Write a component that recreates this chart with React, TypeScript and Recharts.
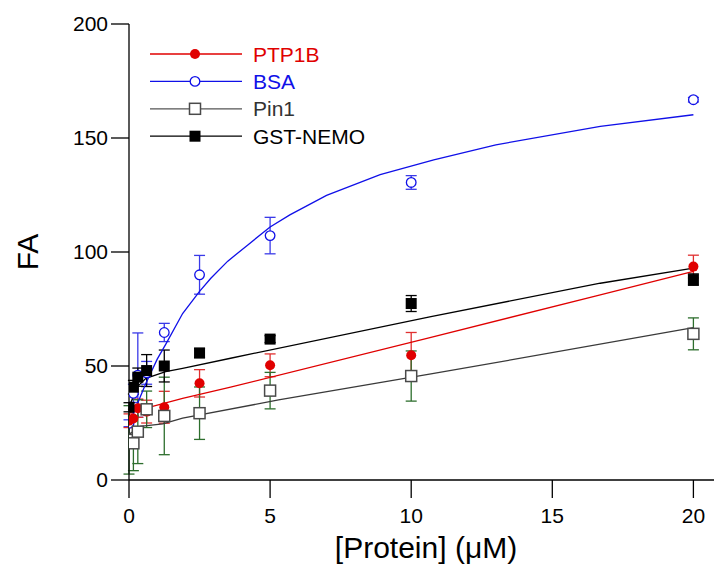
import React from 'react';
import { ComposedChart, Scatter, XAxis, YAxis, ErrorBar } from 'recharts';

const FONT = '"Liberation Sans", Arial, Helvetica, sans-serif';

// Concentrations (µM)
const xValues = [0, 0.156, 0.3125, 0.625, 1.25, 2.5, 5, 10, 20];

// Measured FA values and errors
const ptp1bY = [26, 27, 31.5, 30, 31.9, 42.4, 50.3, 54.7, 93.6];
const ptp1bErr = [3, 4, 4, 5, 7, 6, 5, 10, 5];

const bsaY = [24.9, 38, 46, 47, 64.7, 90.0, 107.2, 130.5, 166.8];
const bsaErr = [1.5, 4, 18.5, 5, 4, 8.5, 8, 3, 1];

const pin1Y = [17.6, 16.1, 21.2, 31.0, 28.1, 29.3, 39.2, 45.6, 64.1];
const pin1Err = [15, 12, 14, 8, 17, 11.5, 8, 11, 7];

const gstY = [31.9, 40.7, 45.1, 48.0, 50.0, 55.7, 61.8, 77.4, 87.9];
const gstErr = [2, 3, 4, 7, 7, 2, 1.5, 3.5, 2.5];

// Fit curves
const bsaFitX = [0, 0.3, 0.6, 1.0, 1.3, 1.9, 2.5, 2.9, 3.5, 4.2, 5, 5.7, 7, 8.9, 10.8, 13, 16.7, 20];
const bsaFitY = [24.5, 33.5, 42.4, 53, 59.5, 73, 82.7, 88.5, 96, 103, 111, 116.3, 124.8, 133.9, 140.4, 147, 155.1, 160.2];

const gstFitX = [0, 0.3, 0.6, 1.3, 1.9, 3.6, 10.7, 16.7, 20];
const gstFitY = [32, 41, 44.6, 47.5, 49, 53.4, 71.7, 86.3, 92.9];

const ptpFitX = [0, 1.9, 3.6, 10.7, 16.7, 20];
const ptpFitY = [29.5, 35.8, 40.7, 62.6, 81.2, 91.5];

const pin1FitX = [0, 0.4, 1.2, 1.9, 5.3, 10.7, 20];
const pin1FitY = [20, 23.5, 24.6, 27.1, 35.1, 46.5, 66.8];

const xTicks = [0, 5, 10, 15, 20];
const yTicks = [0, 50, 100, 150, 200];

const RED = '#e00000';
const BLUE = '#1010e8';
const GREEN = '#2d6e2d';
const GRAY = '#4a4a4a';

const mk = (ys: number[], errs: number[]) => xValues.map((x, i) => ({ x, y: ys[i], err: errs[i] }));
const fit = (xs: number[], ys: number[]) => xs.map((x, i) => ({ x, y: ys[i] }));

const ptpData = mk(ptp1bY, ptp1bErr);
const bsaData = mk(bsaY, bsaErr);
const pin1Data = mk(pin1Y, pin1Err);
const gstData = mk(gstY, gstErr);

const RedDot = (p: any) => <circle cx={p.cx} cy={p.cy} r={5} fill={RED} />;
const BlueCircle = (p: any) => <circle cx={p.cx} cy={p.cy} r={4.8} fill="#fff" stroke={BLUE} strokeWidth={1.3} />;
const WhiteSquare = (p: any) => (
  <rect x={p.cx - 5.5} y={p.cy - 5.5} width={11} height={11} fill="#fff" stroke={GRAY} strokeWidth={1.5} />
);
const BlackSquare = (p: any) => <rect x={p.cx - 5.5} y={p.cy - 5.5} width={11} height={11} fill="#000" />;
const NoShape = () => <g />;

const YTitle = () => (
  <text x={27} y={252} transform="rotate(-90 27 252)" textAnchor="middle" dominantBaseline="central"
    fontSize={30} fontFamily={FONT} fill="#000">FA</text>
);
const XTitle = () => (
  <text x={426} y={558} textAnchor="middle" fontSize={30} fontFamily={FONT} fill="#000">[Protein] (μM)</text>
);

const legendItems = [
  { name: 'PTP1B', line: RED, text: RED, marker: 'dot' },
  { name: 'BSA', line: BLUE, text: BLUE, marker: 'circle' },
  { name: 'Pin1', line: '#555', text: '#333', marker: 'wsq' },
  { name: 'GST-NEMO', line: '#000', text: '#000', marker: 'bsq' },
];

const LegendOverlay = () => (
  <svg width={714} height={567} style={{ position: 'absolute', left: 0, top: 0, pointerEvents: 'none' }}>
    {legendItems.map((it, i) => {
      const y = 54 + i * 27.4;
      return (
        <g key={it.name}>
          <line x1={150} x2={242} y1={y} y2={y} stroke={it.line} strokeWidth={1.3} />
          {it.marker === 'dot' && <circle cx={195} cy={y} r={5} fill={RED} />}
          {it.marker === 'circle' && <circle cx={195} cy={y} r={4.8} fill="#fff" stroke={BLUE} strokeWidth={1.3} />}
          {it.marker === 'wsq' && <rect x={189.5} y={y - 5.5} width={11} height={11} fill="#fff" stroke={GRAY} strokeWidth={1.5} />}
          {it.marker === 'bsq' && <rect x={189.5} y={y - 5.5} width={11} height={11} fill="#000" />}
          <text x={253} y={y} dominantBaseline="central" fontSize={21} fontFamily={FONT} fill={it.text}>{it.name}</text>
        </g>
      );
    })}
  </svg>
);

export default function App() {
  return (
    <div style={{ position: 'absolute', left: 0, top: 0, width: 714, height: 567, background: '#fff' }}>
      <ComposedChart width={714} height={567} margin={{ top: 24, right: 0, bottom: 0, left: 0 }}>
        <XAxis
          type="number"
          dataKey="x"
          domain={[0, 20.73]}
          ticks={xTicks}
          allowDataOverflow
          height={87}
          tickSize={18}
          tickMargin={10}
          stroke="#000"
          strokeWidth={1.3}
          tick={{ fontSize: 21, fill: '#000', fontFamily: FONT }}
          label={<XTitle />}
        />
        <YAxis
          type="number"
          dataKey="y"
          domain={[0, 200]}
          ticks={yTicks}
          allowDataOverflow
          width={129}
          tickSize={18}
          tickMargin={3}
          stroke="#000"
          strokeWidth={1.3}
          tick={{ fontSize: 21, fill: '#000', fontFamily: FONT }}
          label={<YTitle />}
        />
        <Scatter data={fit(pin1FitX, pin1FitY)} line={{ stroke: '#3a3a3a', strokeWidth: 1.3 }} shape={NoShape} isAnimationActive={false} />
        <Scatter data={fit(ptpFitX, ptpFitY)} line={{ stroke: RED, strokeWidth: 1.3 }} shape={NoShape} isAnimationActive={false} />
        <Scatter data={fit(gstFitX, gstFitY)} line={{ stroke: '#000', strokeWidth: 1.3 }} shape={NoShape} isAnimationActive={false} />
        <Scatter data={fit(bsaFitX, bsaFitY)} line={{ stroke: BLUE, strokeWidth: 1.3 }} shape={NoShape} isAnimationActive={false} />

        <Scatter data={bsaData} shape={BlueCircle} isAnimationActive={false}>
          <ErrorBar dataKey="err" direction="y" width={5.5} stroke="#3a3ae8" strokeWidth={1.3} />
        </Scatter>
        <Scatter data={ptpData} shape={RedDot} isAnimationActive={false}>
          <ErrorBar dataKey="err" direction="y" width={5.5} stroke="#e03030" strokeWidth={1.3} />
        </Scatter>
        <Scatter data={pin1Data} shape={WhiteSquare} isAnimationActive={false}>
          <ErrorBar dataKey="err" direction="y" width={5.5} stroke={GREEN} strokeWidth={1.3} />
        </Scatter>
        <Scatter data={gstData} shape={BlackSquare} isAnimationActive={false}>
          <ErrorBar dataKey="err" direction="y" width={5.5} stroke="#000" strokeWidth={1.3} />
        </Scatter>
      </ComposedChart>
      <LegendOverlay />
    </div>
  );
}
